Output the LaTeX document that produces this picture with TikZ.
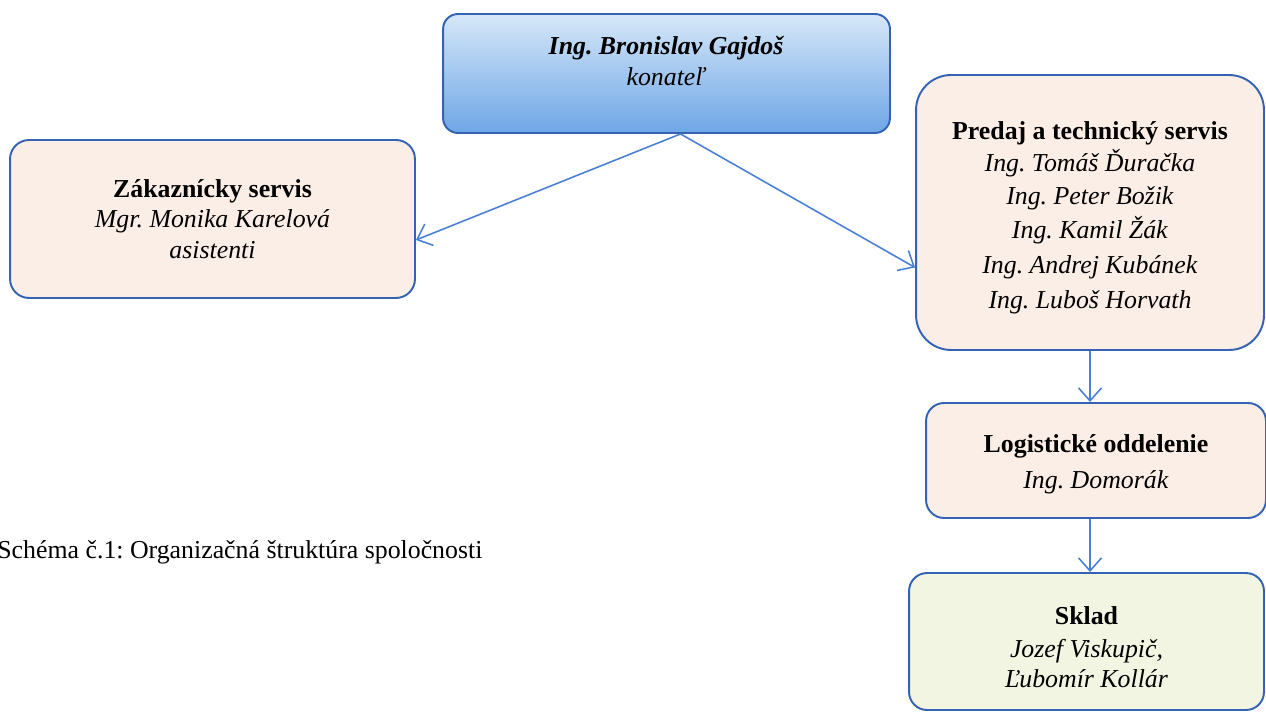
\documentclass[tikz,border=0pt]{standalone}
\usepackage{fontspec}
\setmainfont{Liberation Serif}
\usetikzlibrary{arrows.meta}
\definecolor{edgeblue}{HTML}{3463B4}
\definecolor{arrowblue}{HTML}{4A80D4}
\definecolor{boxbeige}{HTML}{FBEEE6}
\definecolor{boxgreen}{HTML}{F1F5E2}
\definecolor{bosstop}{HTML}{D6E7F8}
\definecolor{bossbot}{HTML}{6EA6E6}
\frenchspacing
\begin{document}
\begin{tikzpicture}[x=0.02cm,y=-0.02cm]

\def \fsize{\fontsize{14.7}{17.5}\selectfont}

\tikzstyle{unit} = [rectangle, draw=edgeblue, line width=1.1pt, fill=boxbeige, align=center, inner sep=0pt, font=\fsize]
\tikzstyle{link} = [draw=arrowblue, line width=0.9pt, -{Straight Barb[length=2.6mm,width=4.6mm]}]

\useasboundingbox (0,0) rectangle (1266,713);

%Head of the company
\node[unit, top color=bosstop, bottom color=bossbot, rounded corners=0.3cm,
      minimum width=8.94cm, minimum height=2.38cm](boss) at (666.5,73.5)
      {\textbf{\textit{Ing. Bronislav Gajdoš}}\\\textit{konateľ}\\[-3pt]\mbox{}};

%Customer service
\node[unit, rounded corners=0.38cm, minimum width=8.1cm, minimum height=3.16cm](zak) at (212.5,219)
      {\textbf{Zákaznícky servis}\\\textit{Mgr. Monika Karelová}\\\textit{asistenti}};

%Sales and technical service
\node[unit, rounded corners=0.7cm, minimum width=6.96cm, minimum height=5.5cm](pred) at (1090,212.5)
      {\rule{0pt}{16pt}\textbf{Predaj a technický servis}\\[1pt]
       \textit{Ing. Tomáš Ďuračka}\\[1.5pt]
       \textit{Ing. Peter Božik}\\[1.5pt]
       \textit{Ing. Kamil Žák}\\[2.5pt]
       \textit{Ing. Andrej Kubánek}\\[2.5pt]
       \textit{Ing. Luboš Horvath}};

%Logistics
\node[unit, rounded corners=0.36cm, minimum width=6.8cm, minimum height=2.3cm](logi) at (1096,460.5)
      {\rule{0pt}{14pt}\textbf{Logistické oddelenie}\\[3pt]\textit{Ing. Domorák}};

%Warehouse
\node[unit, fill=boxgreen, rounded corners=0.36cm, minimum width=7.1cm, minimum height=2.74cm](sklad) at (1086.5,641.5)
      {\rule{0pt}{17pt}\textbf{Sklad}\\[1pt]\textit{Jozef Viskupič,}\\\textit{Ľubomír Kollár}};

%Arrows from the head
\draw[link] ([xshift=0.28cm]boss.south) -- ([yshift=-0.42cm]zak.east);
\draw[link] ([xshift=0.28cm]boss.south) -- ([yshift=-1.1cm]pred.west);

%Down the right column
\draw[link] (pred.south) -- (pred.south |- logi.north);
\draw[link] (pred.south |- logi.south) -- (pred.south |- sklad.north);

%Caption
\node[anchor=west, inner sep=0pt, font=\fsize](caption) at (-3,552)
      {Schéma č.1: Organizačná štruktúra spoločnosti};

\end{tikzpicture}
\end{document}
